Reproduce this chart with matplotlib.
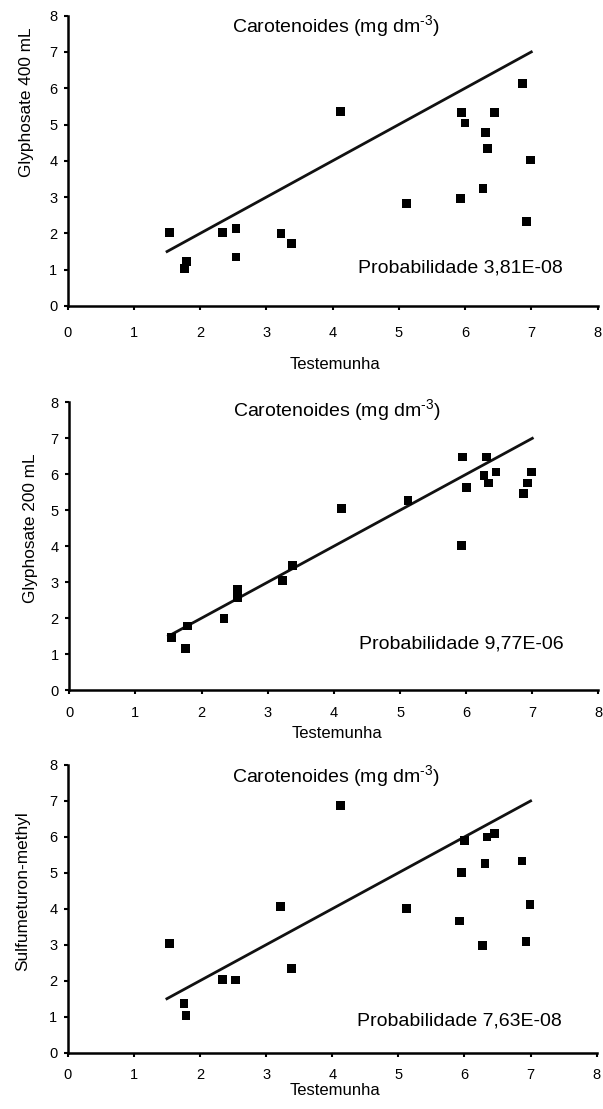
import matplotlib
matplotlib.use('Agg')
import matplotlib.pyplot as plt

plt.rcParams['font.family'] = ['Liberation Sans', 'DejaVu Sans']
plt.rcParams['mathtext.fontset'] = 'custom'
plt.rcParams['mathtext.rm'] = 'Liberation Sans'

# Control values (x axis), same for all three panels
testemunha = [1.54, 1.76, 1.79, 2.34, 2.54, 2.54, 3.22, 3.38, 4.12, 5.12,
              5.93, 5.95, 6.00, 6.27, 6.31, 6.34, 6.45, 6.87, 6.93, 6.99]

# Treatment values (y axis)
glyphosate_400 = [2.03, 1.03, 1.23, 2.02, 2.13, 1.35, 1.99, 1.72, 5.36, 2.83,
                  2.97, 5.33, 5.04, 3.24, 4.78, 4.34, 5.33, 6.12, 2.32, 4.02]
glyphosate_200 = [1.45, 1.16, 1.78, 1.99, 2.79, 2.56, 3.05, 3.46, 5.04, 5.26,
                  4.02, 6.48, 5.64, 5.97, 6.48, 5.76, 6.06, 5.46, 5.76, 6.06]
sulfometuron = [3.04, 1.37, 1.03, 2.03, 2.02, 2.02, 4.06, 2.35, 6.88, 4.01,
                3.66, 5.00, 5.91, 2.98, 5.25, 6.00, 6.10, 5.33, 3.09, 4.12]

# 1:1 reference line
linha_1x1 = [1.5, 7.0]

nomes = ['Glyphosate 400 mL', 'Glyphosate 200 mL', 'Sulfumeturon-methyl']
probabilidades = ['3,81E-08', '9,77E-06', '7,63E-08']
series = [glyphosate_400, glyphosate_200, sulfometuron]
ticks = [0, 1, 2, 3, 4, 5, 6, 7, 8]

fig = plt.figure(figsize=(6.03, 11.09), dpi=100)

# axes boxes (left, bottom, width, height) in figure fractions
caixas = [[0.1123, 0.7241, 0.8786, 0.2618],
          [0.1149, 0.3778, 0.8776, 0.2594],
          [0.1123, 0.0508, 0.8773, 0.2594]]
# per panel: x tick pad, xlabel y, ylabel (x, y), title y, prob y
xpad = [11.5, 8.6, 8.0]
xlab_y = [-0.175, -0.125, -0.105]
ylab_pos = [(-0.0645, 0.70), (-0.060, 0.564), (-0.071, 0.562)]
titulo_y = [7.51, 7.60, 7.51]
prob_y = [0.92, 1.16, 0.76]

for i in range(3):
    ax = fig.add_axes(caixas[i])
    ax.scatter(testemunha, series[i], marker='s', s=40, color='black',
               edgecolors='none', zorder=3)
    ax.plot(linha_1x1, linha_1x1, color='#111111', linewidth=2.0)

    ax.set_xlim(0, 8)
    ax.set_ylim(0, 8)
    ax.set_xticks(ticks)
    ax.set_yticks(ticks)
    for s in ['top', 'right']:
        ax.spines[s].set_visible(False)
    for s in ['left', 'bottom']:
        ax.spines[s].set_linewidth(1.8)
    ax.tick_params(axis='both', direction='out', length=3, width=1.5,
                   labelsize=10.5)
    ax.tick_params(axis='x', pad=xpad[i])
    ax.tick_params(axis='y', pad=4.5)

    ax.set_xlabel('Testemunha', fontsize=12)
    ax.xaxis.set_label_coords(0.505, xlab_y[i])
    ax.set_ylabel(nomes[i], fontsize=12.4)
    ax.yaxis.set_label_coords(ylab_pos[i][0], ylab_pos[i][1])

    ax.text(4.05, titulo_y[i], r'Carotenoides (mg dm$^{\text{-3}}$)',
            fontsize=14, ha='center', va='baseline')
    ax.text(7.47, prob_y[i], 'Probabilidade ' + probabilidades[i],
            fontsize=14, ha='right', va='baseline')

fig.savefig('out.png', dpi=100)
